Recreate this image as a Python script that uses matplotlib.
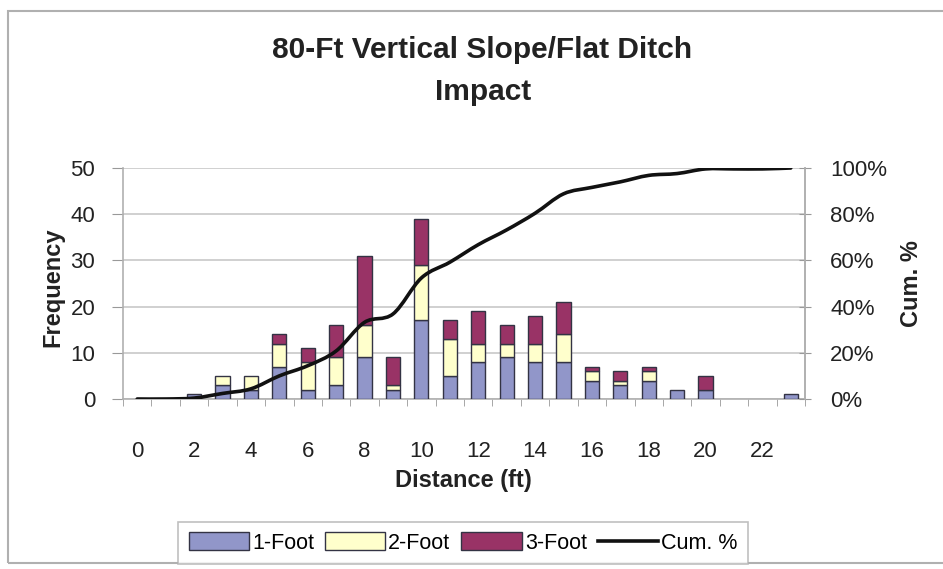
import matplotlib
matplotlib.use("Agg")
import matplotlib.pyplot as plt
import numpy as np
from matplotlib.path import Path
from matplotlib.patches import PathPatch, Rectangle
from matplotlib.lines import Line2D
from matplotlib.ticker import FuncFormatter, MultipleLocator, FixedLocator

plt.rcParams['font.family'] = ['Liberation Sans', 'DejaVu Sans']

categories = list(range(0, 24))
one_foot   = [0, 0, 1, 3, 2, 7, 2, 3, 9, 2, 17, 5, 8, 9, 8, 8, 4, 3, 4, 2, 2, 0, 0, 1]
two_foot   = [0, 0, 0, 2, 3, 5, 6, 6, 7, 1, 12, 8, 4, 3, 4, 6, 2, 1, 2, 0, 0, 0, 0, 0]
three_foot = [0, 0, 0, 0, 0, 2, 3, 7, 15, 6, 10, 4, 7, 4, 6, 7, 1, 2, 1, 0, 3, 0, 0, 0]
cum_pct    = [0.0, 0.0, 0.4, 2.4, 4.4, 10.0, 14.4, 20.8, 33.2, 36.8, 52.4, 59.2,
              66.8, 73.2, 80.4, 88.8, 91.6, 94.0, 96.8, 97.6, 99.6, 99.6, 99.6, 100.0]
x_tick_labels = ['0', '2', '4', '6', '8', '10', '12', '14', '16', '18', '20', '22']

W, H = 943, 569
fig = plt.figure(figsize=(W / 100, H / 100), dpi=100)

# chart border
fig.patches.append(Rectangle((8 / W, 1 - 563 / H), (960 - 8) / W, (563 - 11) / H,
                             transform=fig.transFigure, fill=False,
                             edgecolor='#b0b0b0', lw=1.5, zorder=0))

ax = fig.add_axes([123 / W, 1 - 399 / H, (805 - 123) / W, (399 - 168) / H])
x = np.array(categories)
c1, c2, c3 = '#9196c9', '#ffffcc', '#993366'
ec = '#333344'
bw = 0.5
b1 = np.array(one_foot, dtype=float)
b2 = np.array(two_foot, dtype=float)
b3 = np.array(three_foot, dtype=float)


def draw_segment(vals, bottom, color, label):
    m = vals > 0
    ax.bar(x[m], vals[m], width=bw, bottom=bottom[m], color=color, edgecolor=ec,
           lw=1.0, zorder=3, label=label)


draw_segment(b1, np.zeros_like(b1), c1, '1-Foot')
draw_segment(b2, b1, c2, '2-Foot')
draw_segment(b3, b1 + b2, c3, '3-Foot')

ax.set_xlim(-0.5, 23.5)
ax.set_ylim(0, 50)
ax.yaxis.set_major_locator(MultipleLocator(10))
ax.grid(axis='y', color='#c8c8c8', lw=1.2, zorder=0)
ax.set_axisbelow(True)
ax.xaxis.set_major_locator(FixedLocator(list(range(0, 24, 2))))
ax.set_xticklabels(x_tick_labels)
ax.xaxis.set_minor_locator(FixedLocator(list(np.arange(-0.5, 24, 1.0))))
ax.tick_params(axis='x', which='major', length=0, pad=30, labelsize=16, labelcolor='#222222')
ax.tick_params(axis='x', which='minor', length=5, direction='out', color='#999999')
ax.tick_params(axis='y', which='major', length=8, direction='out', pad=12, labelsize=16,
               color='#999999', labelcolor='#222222')
ax.spines['top'].set_visible(False)
for s in ['left', 'bottom', 'right']:
    ax.spines[s].set_color('#b0b0b0')
    ax.spines[s].set_linewidth(1.2)

ax2 = ax.twinx()
ax2.set_ylim(0, 1.0)
ax2.yaxis.set_major_locator(MultipleLocator(0.2))
ax2.yaxis.set_major_formatter(FuncFormatter(lambda v, p: f"{v*100:.0f}%"))
ax2.tick_params(axis='y', length=8, direction='inout', pad=14, labelsize=16,
                color='#999999', labelcolor='#222222')
for s in ['top', 'left', 'bottom']:
    ax2.spines[s].set_visible(False)
ax2.spines['right'].set_color('#b0b0b0')
ax2.spines['right'].set_linewidth(1.2)

# smoothed cumulative line (Bezier through data points)
px = x.astype(float)
py = np.array(cum_pct) / 100.0
verts = [(px[0], py[0])]
codes = [Path.MOVETO]
n = len(px)
for i in range(n - 1):
    p0 = np.array([px[max(i - 1, 0)], py[max(i - 1, 0)]])
    p1 = np.array([px[i], py[i]])
    p2 = np.array([px[i + 1], py[i + 1]])
    p3 = np.array([px[min(i + 2, n - 1)], py[min(i + 2, n - 1)]])
    cp1 = p1 + (p2 - p0) / 6.0
    cp2 = p2 - (p3 - p1) / 6.0
    verts += [tuple(cp1), tuple(cp2), tuple(p2)]
    codes += [Path.CURVE4] * 3
ax2.add_patch(PathPatch(Path(verts, codes), fill=False, edgecolor='#111111', lw=2.6,
                        zorder=5, capstyle='round', joinstyle='round'))

fig.text(482 / W, 1 - 50 / H, '80-Ft Vertical Slope/Flat Ditch', ha='center', va='center',
         fontsize=21.5, fontweight='bold', color='#222222')
fig.text(483 / W, 1 - 92 / H, 'Impact', ha='center', va='center',
         fontsize=21.5, fontweight='bold', color='#222222')
fig.text(53 / W, 1 - 287 / H, 'Frequency', rotation=90, ha='center', va='center',
         fontsize=17, fontweight='bold', color='#222222')
fig.text(912 / W, 1 - 284 / H, 'Cum. %', rotation=90, ha='center', va='center',
         fontsize=17, fontweight='bold', color='#222222')
fig.text(463 / W, 1 - 480 / H, 'Distance (ft)', ha='center', va='center',
         fontsize=17, fontweight='bold', color='#222222')

handles = [
    Rectangle((0, 0), 1, 1, facecolor=c1, edgecolor=ec, lw=1.0),
    Rectangle((0, 0), 1, 1, facecolor=c2, edgecolor=ec, lw=1.0),
    Rectangle((0, 0), 1, 1, facecolor=c3, edgecolor=ec, lw=1.0),
    Line2D([0], [0], color='#111111', lw=2.6),
]
labels = ['1-Foot', '2-Foot', '3-Foot', 'Cum. %']
leg = fig.legend(handles, labels, loc='center', bbox_to_anchor=(463 / W, 1 - 543 / H),
                 ncol=4, frameon=True, fancybox=False, fontsize=15.5,
                 handlelength=2.8, handleheight=0.9, handletextpad=0.15, columnspacing=0.5,
                 borderpad=0.5, edgecolor='#b0b0b0')
leg.get_frame().set_linewidth(1.2)

fig.savefig('out.png', dpi=100)
